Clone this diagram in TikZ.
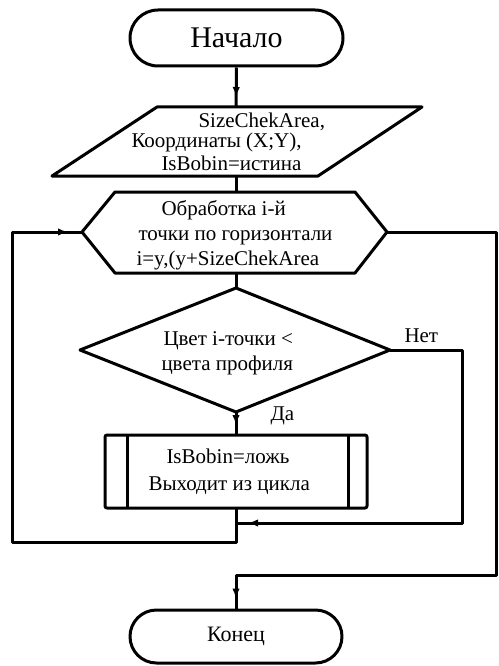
\documentclass[tikz,border=0pt]{standalone}
\usepackage{fontspec}
\setmainfont{Liberation Serif}
\usetikzlibrary{arrows.meta,decorations.markings,shapes.misc}
\begin{document}
\begin{tikzpicture}[x=1pt,y=-1pt,line width=3pt,line join=round,
  lbl/.style={anchor=base west,inner sep=0pt,font=\fontsize{21}{25}\selectfont},
  term/.style={draw,rounded rectangle,inner sep=0pt},
  midarrow/.style={postaction={decorate},decoration={markings,mark=at position #1 with {\arrow{Latex[length=10pt,width=7.5pt]}}}}]
\useasboundingbox (0,0) rectangle (498,666);
% terminals
\node[term,minimum width=213pt,minimum height=56pt,font=\fontsize{30}{34}\selectfont] (start) at (236.5,38) {Начало};
\node[term,minimum width=212pt,minimum height=53pt,font=\fontsize{22}{26}\selectfont] (stop) at (236,636.5) {Конец};
% parallelogram
\draw (157,107) -- (422,107) -- (318,176) -- (52,176) -- cycle;
\coordinate (pT) at (236,107);
\coordinate (pB) at (236,176);
\node[lbl] (p1) at (197,128) {SizeChekArea,};
\node[lbl] (p2) at (130,147) {Координаты (X;Y),};
\node[lbl] (p3) at (160,170) {IsBobin=истина};
% hexagon
\draw (82,232) -- (115,192) -- (355,192) -- (387,232) -- (355,273) -- (115,273) -- cycle;
\coordinate (hL) at (82,232);
\coordinate (hR) at (387,232);
\coordinate (hT) at (236,192);
\coordinate (hB) at (236,273);
\node[lbl] (h1) at (160,215) {Обработка i-й};
\node[lbl] (h2) at (137,240) {точки по горизонтали};
\node[lbl] (h3) at (135,265) {i=y,(y+SizeChekArea};
% diamond
\draw (236,288) -- (390,350) -- (236,412) -- (80,350) -- cycle;
\coordinate (dT) at (236,288);
\coordinate (dR) at (390,350);
\coordinate (dB) at (236,412);
\node[lbl] (d1) at (162,345) {Цвет i-точки <};
\node[lbl] (d2) at (160,370) {цвета профиля};
% predefined process
\draw[rounded corners=2pt] (105,435) rectangle (367,508);
\draw (127,435) -- (127,508);
\draw (348,435) -- (348,508);
\coordinate (prT) at (236,435);
\coordinate (prB) at (236,508);
\node[lbl] (r1) at (165,463) {IsBobin=ложь};
\node[lbl] (r2) at (147,490) {Выходит из цикла};
% labels
\node[lbl] (no) at (403,342) {Нет};
\node[lbl] (yes) at (269,420) {Да};
% connectors
\coordinate (j1) at (236,523);
\coordinate (j2) at (236,575);
\draw[midarrow=-10pt] (start.south) -- (pT);
\draw (pB) -- (hT);
\draw (hB) -- (dT);
\draw[midarrow=-10pt] (dB) -- (prT);
\draw[midarrow=-12pt] (dR) -- (462,350) -- (462,523) -- (j1);
\draw[midarrow=-14pt] (prB) -- (236,542) -- (12,542) -- (12,232) -- (hL);
\draw[midarrow=-10pt] (hR) -- (496.5,232) -- (496.5,575) -- (j2) -- (stop.north);
\end{tikzpicture}
\end{document}
